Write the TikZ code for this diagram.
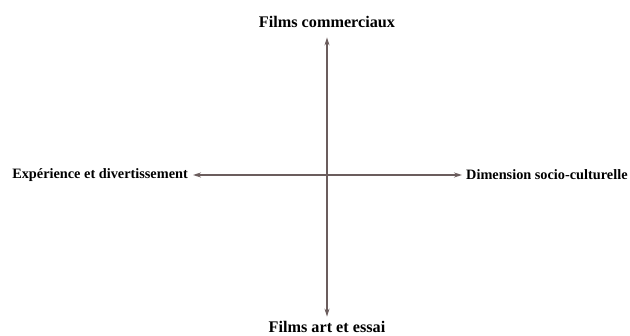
\documentclass[tikz,border=0pt]{standalone}
\usepackage{fontspec}
\setmainfont{Liberation Serif}
\usetikzlibrary{positioning, arrows.meta}
\definecolor{axecol}{HTML}{6B5D5D}

\begin{document}
\begin{tikzpicture}[
                    x=1pt, y=-1pt,
                    axe/.style={draw=axecol, line width=1.2pt, {Stealth[length=8pt,width=5pt]}-{Stealth[length=8pt,width=5pt]}},
                    every node/.style={font=\bfseries\fontsize{14.3}{16}\selectfont, inner sep=0pt},
                    pole/.style={font=\bfseries\fontsize{16.2}{18}\selectfont}
                ]
                  \useasboundingbox (0,0) rectangle (630,336);
                  % les quatre poles
                  \node[pole] (comm) at (327,22) {Films commerciaux};
                  \node[pole] (art) at (327,327) {Films art et essai};
                  \node[anchor=east] (exp) at (188,175) {Exp\'erience et divertissement};
                  \node[anchor=west] (socio) at (466,175) {Dimension socio-culturelle};
                  % les axes
                  \draw[axe, shorten <=4.5pt, shorten >=9.5pt] (art) -- (comm);
                  \draw[axe, shorten <=5pt, shorten >=4pt] (exp) -- (socio);
                \end{tikzpicture}
\end{document}
